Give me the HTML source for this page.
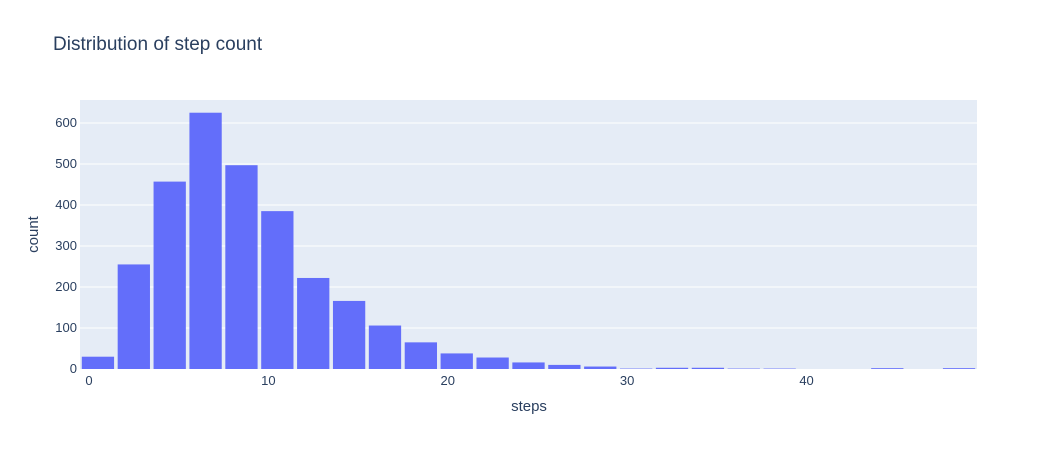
<!DOCTYPE html>
<html><head><meta charset="utf-8"><style>
body{margin:0;background:#fff;font-family:"Liberation Sans",sans-serif;}
svg text{font-family:"Liberation Sans",sans-serif;fill:#2a3f5f;}
</style></head><body>
<svg id="chart" width="1058" height="450">
<text x="53" y="50" font-size="19">Distribution of step count</text>
<rect x="80" y="100" width="897" height="269" fill="#e5ecf6"/>
<g id="grid"></g><g id="bars"></g><g id="ticks"></g>
<text x="529" y="411" font-size="15" text-anchor="middle">steps</text>
<text x="38" y="234.5" font-size="15" text-anchor="middle" transform="rotate(-90 38 234.5)">count</text>
</svg>
<script>
const binStarts=[-0.5,1.5,3.5,5.5,7.5,9.5,11.5,13.5,15.5,17.5,19.5,21.5,23.5,25.5,27.5,29.5,31.5,33.5,35.5,37.5,39.5,41.5,43.5,45.5,47.5];
const counts=[30,255,457,625,497,385,222,166,106,65,38,28,16,10,6,1,3,3,1,1,0,0,2,0,2];
const xTicks=[0,10,20,30,40];
const yTicks=[0,100,200,300,400,500,600];
const binWidth=2;
const X0=80,X1=977,Y0=369,Y1=100,xmin=-0.5,xmax=49.5,ymax=656;
const sx=v=>X0+(v-xmin)/(xmax-xmin)*(X1-X0);
const sy=v=>Y0-v/ymax*(Y0-Y1);
const NS="http://www.w3.org/2000/svg";
const grid=document.getElementById('grid'),bars=document.getElementById('bars'),ticks=document.getElementById('ticks');
yTicks.forEach(t=>{
 if(t>0){const l=document.createElementNS(NS,'line');
 l.setAttribute('x1',X0);l.setAttribute('x2',X1);l.setAttribute('y1',sy(t));l.setAttribute('y2',sy(t));
 l.setAttribute('stroke','#fff');l.setAttribute('stroke-width','1');
 
 
 grid.appendChild(l);}
 const tx=document.createElementNS(NS,'text');
 tx.setAttribute('x',X0-3);tx.setAttribute('y',sy(t)+4);tx.setAttribute('text-anchor','end');tx.setAttribute('font-size','13');
 tx.textContent=t;
 
 
 ticks.appendChild(tx);
});
xTicks.forEach(t=>{
 const tx=document.createElementNS(NS,'text');
 tx.setAttribute('x',sx(t));tx.setAttribute('y',385);tx.setAttribute('text-anchor','middle');tx.setAttribute('font-size','13');
 tx.textContent=t;
 
 
 ticks.appendChild(tx);
});
const gap=0.1;
counts.forEach((c,i)=>{
 if(c<=0)return;
 const a=sx(binStarts[i]),b=sx(binStarts[i]+binWidth),w=b-a;
 const r=document.createElementNS(NS,'rect');
 r.setAttribute('x',a+w*gap/2);r.setAttribute('width',w*(1-gap));
 r.setAttribute('y',sy(c));r.setAttribute('height',Y0-sy(c));
 r.setAttribute('fill','#636efa');
 
 
 bars.appendChild(r);
});
</script>
</body></html>
